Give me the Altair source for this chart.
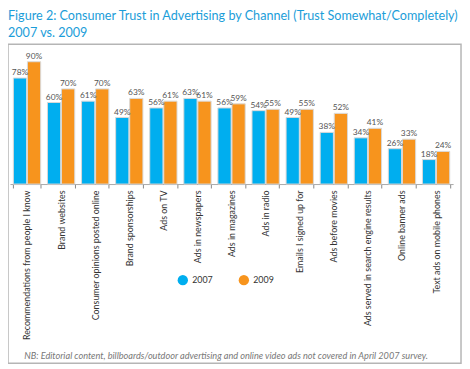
import altair as alt
import pandas as pd

channels = [
    "Recommendations from people I know",
    "Brand websites",
    "Consumer opinions posted online",
    "Brand sponsorships",
    "Ads on TV",
    "Ads in newspapers",
    "Ads in magazines",
    "Ads in radio",
    "Emails I signed up for",
    "Ads before movies",
    "Ads served in search engine results",
    "Online banner ads",
    "Text ads on mobile phones",
]
trust_2007 = [78, 60, 61, 49, 56, 63, 56, 54, 49, 38, 34, 26, 18]
trust_2009 = [90, 70, 70, 63, 61, 61, 59, 55, 55, 52, 41, 33, 24]
years = ["2007", "2009"]
colors = ["#00AEEF", "#F7941D"]

title_lines = [
    "Figure 2: Consumer Trust in Advertising by Channel (Trust Somewhat/Completely)",
    "2007 vs. 2009",
]
footnote = "NB: Editorial content, billboards/outdoor advertising and online video ads not covered in April 2007 survey."

rows = []
for c, a, b in zip(channels, trust_2007, trust_2009):
    rows.append({"channel": c, "year": "2007", "value": a, "label": f"{a}%"})
    rows.append({"channel": c, "year": "2009", "value": b, "label": f"{b}%"})
df = pd.DataFrame(rows)

FONT = "Lato"

x = alt.X(
    "channel:N",
    sort=channels,
    scale=alt.Scale(paddingInner=0.2, paddingOuter=0.1),
    axis=alt.Axis(
        title=footnote,
        titleFont=FONT,
        titleFontSize=9.3,
        titleFontStyle="italic",
        titleFontWeight="normal",
        titleColor="#777777",
        titleX=219,
        titleY=174,
        titleAlign="center",
        titleBaseline="middle",
        labelAngle=270,
        labelAlign="right",
        labelBaseline="middle",
        labelFont=FONT,
        labelFontSize=9,
        labelColor="#333333",
        labelPadding=2,
        labelLimit=200,
        tickBand="extent",
        tickSize=4,
        tickColor="#888888",
        domainColor="#aaaaaa",
    ),
)
xo = alt.XOffset("year:N", sort=years, scale=alt.Scale(paddingInner=0.06))
y = alt.Y("value:Q", scale=alt.Scale(domain=[0, 100]), axis=None)
color = alt.Color(
    "year:N",
    scale=alt.Scale(domain=years, range=colors),
    legend=alt.Legend(
        title=None,
        orient="none",
        legendX=170,
        legendY=230,
        direction="horizontal",
        symbolType="circle",
        symbolSize=110,
        symbolStrokeWidth=0,
        labelFont=FONT,
        labelFontSize=9,
        labelColor="#333333",
        labelOffset=4,
        columnPadding=26,
        padding=0,
    ),
)

box = alt.Chart(pd.DataFrame({"k": [0]})).mark_rect(
    filled=False, stroke="#b5b5b5", strokeWidth=1.5
).encode(x=alt.value(-2), x2=alt.value(458), y=alt.value(-4), y2=alt.value(320))

base = alt.Chart(df)
bars = base.mark_bar(stroke="#d8d8d8", strokeWidth=1).encode(
    x=x, xOffset=xo, y=y, color=color
)
labels = base.mark_text(dy=-6, font=FONT, fontSize=8.5, color="#555555").encode(
    x=x, xOffset=xo, y=y, text="label:N"
)

chart = (
    alt.layer(box, bars, labels)
    .properties(
        width=450,
        height=138,
        autosize=alt.AutoSizeParams(type="none"),
        padding={"left": 2, "top": 38, "right": 9, "bottom": 183},
        title=alt.TitleParams(
            title_lines,
            anchor="start",
            frame="group",
            font=FONT,
            fontSize=12.8,
            fontWeight="normal",
            color="#1B9DD9",
            lineHeight=17,
            offset=4,
            dx=-2,
            limit=470,
        ),
    )
    .configure_view(stroke=None)
)

chart.save("out.html", embed_options={"renderer": "svg", "actions": False})
